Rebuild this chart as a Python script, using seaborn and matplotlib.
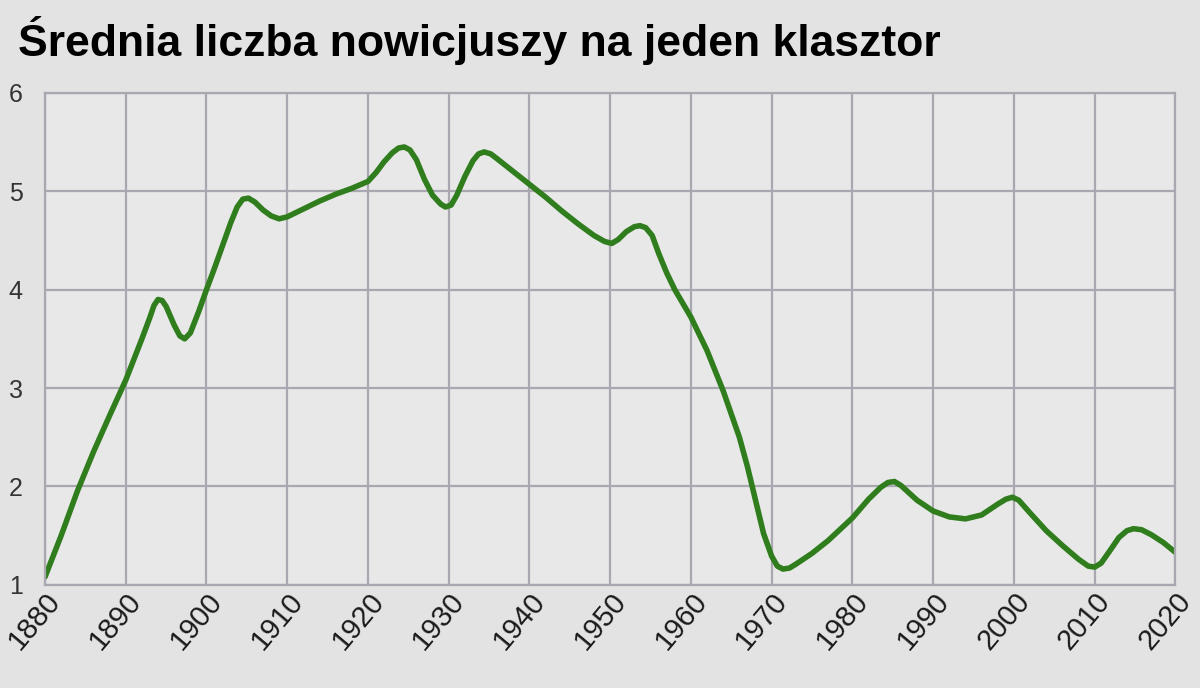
import pandas as pd
import matplotlib.pyplot as plt
import seaborn as sns

# (rok, średnia liczba nowicjuszy)
lata = [1880, 1882, 1884, 1886, 1888, 1890, 1892, 1893, 1893.5, 1894,
        1894.5, 1895, 1896, 1896.7, 1897.3, 1898, 1899, 1900, 1901, 1902,
        1903, 1903.8, 1904.5, 1905.2, 1906, 1907, 1908, 1909, 1910, 1912,
        1914, 1916, 1918, 1920, 1921, 1922, 1923, 1923.8, 1924.5, 1925.2,
        1926, 1927, 1928, 1929, 1929.6, 1930.3, 1931, 1932, 1933, 1933.7,
        1934.4, 1935.2, 1936, 1938, 1940, 1942, 1944, 1946, 1948, 1949.3,
        1950.2, 1951, 1952, 1953, 1953.7, 1954.4, 1955.2, 1956, 1957, 1958,
        1959, 1960, 1962, 1964, 1966, 1967, 1968, 1969, 1970, 1970.7,
        1971.4, 1972.2, 1973, 1975, 1977, 1980, 1982, 1983.5, 1984.4, 1985.2,
        1986, 1988, 1990, 1992, 1994, 1996, 1998, 1999, 1999.8, 2000.6,
        2002, 2004, 2006, 2008, 2009.2, 2010, 2010.8, 2012, 2013, 2014,
        2014.8, 2015.8, 2017, 2018.5, 2020]
wartosci = [1.08, 1.50, 1.95, 2.35, 2.72, 3.08, 3.50, 3.72, 3.84, 3.90,
            3.89, 3.83, 3.64, 3.53, 3.50, 3.56, 3.77, 4.00, 4.22, 4.45,
            4.68, 4.84, 4.92, 4.93, 4.89, 4.81, 4.75, 4.72, 4.74, 4.82,
            4.90, 4.97, 5.03, 5.10, 5.19, 5.30, 5.39, 5.44, 5.45, 5.42,
            5.32, 5.12, 4.96, 4.87, 4.84, 4.86, 4.96, 5.15, 5.31, 5.38,
            5.40, 5.38, 5.33, 5.20, 5.07, 4.94, 4.80, 4.67, 4.55, 4.49,
            4.47, 4.51, 4.59, 4.64, 4.65, 4.63, 4.55, 4.37, 4.17, 4.00,
            3.86, 3.72, 3.38, 2.97, 2.50, 2.20, 1.86, 1.52, 1.29, 1.19,
            1.16, 1.17, 1.21, 1.32, 1.45, 1.68, 1.87, 1.99, 2.04, 2.05,
            2.01, 1.86, 1.75, 1.69, 1.67, 1.71, 1.82, 1.87, 1.89, 1.86,
            1.73, 1.55, 1.40, 1.26, 1.19, 1.18, 1.22, 1.36, 1.48, 1.55,
            1.57, 1.56, 1.51, 1.43, 1.33]
x_ticks = list(range(1880, 2021, 10))
y_ticks = [1, 2, 3, 4, 5, 6]

df = pd.DataFrame({'rok': lata, 'nowicjusze': wartosci})

sns.set_theme(style='whitegrid')
plt.rcParams['font.family'] = ['Liberation Sans', 'DejaVu Sans']

fig = plt.figure(figsize=(12, 6.88), dpi=100, facecolor='#e3e3e3')
ax = fig.add_axes([0.0375, 0.15, 0.942, 0.715])
ax.set_facecolor('#e8e8e8')

sns.lineplot(data=df, x='rok', y='nowicjusze', ax=ax, color='#2f7d1c',
             linewidth=4, solid_capstyle='round', solid_joinstyle='round')

ax.set_xlim(1880, 2020)
ax.set_ylim(1, 6)
ax.set_xticks(x_ticks)
ax.set_yticks(y_ticks)
ax.set_xlabel('')
ax.set_ylabel('')
ax.grid(True, color='#a9a8b0', linewidth=1.6)
for s in ax.spines.values():
    s.set_color('#a9a8b0')
    s.set_linewidth(1.6)
ax.tick_params(axis='both', length=0, colors='#1a1a1a')
ax.tick_params(axis='y', labelsize=18, pad=16, labelcolor='#333333')
plt.setp(ax.get_xticklabels(), rotation=50, ha='right', va='top',
         rotation_mode='anchor', fontsize=21)
ax.tick_params(axis='x', pad=2)

fig.text(0.015, 0.918, 'Średnia liczba nowicjuszy na jeden klasztor',
         fontsize=32, fontweight='bold', color='black', ha='left', va='baseline')

plt.savefig('out.png', dpi=100, facecolor=fig.get_facecolor())
